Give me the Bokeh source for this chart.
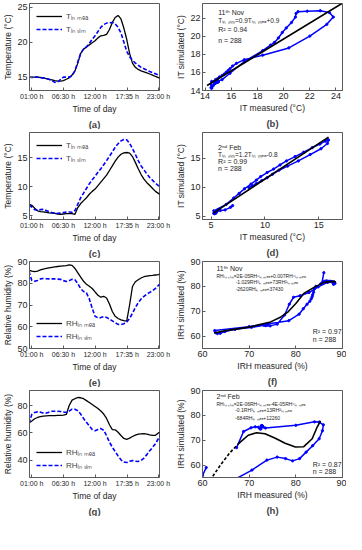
from bokeh.plotting import figure
from bokeh.layouts import column, row
from bokeh.models import Range1d, FixedTicker, Legend, LegendItem, Label, Title
from bokeh.embed import file_html
from bokeh.resources import INLINE

# ---------------- data ----------------
hours = [0.5, 1.0, 1.5, 2.0, 2.5, 3.0, 3.5, 4.0, 4.5, 5.0, 5.5, 6.0, 6.5, 7.0, 7.5, 8.0,
         8.5, 9.0, 9.5, 10.0, 10.5, 11.0, 11.5, 12.0, 12.5, 13.0, 13.5, 14.0, 14.5, 15.0,
         15.5, 16.0, 16.5, 17.0, 17.5, 18.0, 18.5, 19.0, 19.5, 20.0, 20.5, 21.0, 21.5,
         22.0, 22.5, 23.0, 23.5]

nov_t_mea = [15.0, 15.0, 15.0, 15.0, 14.95, 14.9, 14.8, 14.7, 14.6, 14.5, 14.45, 14.45, 14.5,
             14.7, 14.9, 15.3, 15.9, 17.0, 18.4, 19.0, 19.3, 19.6, 19.9, 20.2, 20.6, 20.9,
             20.95, 21.1, 21.8, 22.8, 23.5, 23.8, 23.3, 22.0, 20.4, 18.4, 17.0, 16.4, 16.1,
             15.9, 15.75, 15.6, 15.45, 15.3, 15.1, 14.95, 14.8]
nov_t_sim = [15.0, 14.95, 15.0, 15.0, 14.9, 14.9, 14.8, 14.7, 14.5, 14.25, 14.3, 14.7, 15.0,
             15.0, 15.0, 15.2, 15.9, 17.2, 18.4, 19.0, 19.3, 19.8, 20.4, 20.9, 21.5, 22.1,
             22.5, 22.7, 22.75, 22.8, 22.6, 22.1, 21.3, 20.0, 18.7, 17.9, 17.4, 17.0, 16.7,
             16.4, 16.2, 16.0, 15.8, 15.65, 15.5, 15.3, 15.2]

feb_t_mea = [7.0, 6.8, 6.3, 5.85, 5.7, 5.65, 5.6, 5.5, 5.45, 5.4, 5.3, 5.25, 5.3, 5.35, 5.35,
             5.35, 5.25, 6.4, 7.1, 7.6, 8.1, 8.7, 9.2, 9.6, 10.2, 10.8, 11.4, 12.0, 12.8, 13.6,
             14.4, 15.1, 15.6, 15.85, 15.9, 15.8, 15.2, 14.2, 13.1, 12.1, 11.3, 10.7, 10.2,
             9.7, 9.2, 8.85, 8.5]
feb_t_sim = [6.8, 6.5, 6.05, 5.95, 6.05, 6.1, 5.9, 5.7, 5.55, 5.45, 5.4, 5.45, 5.55, 5.65, 5.65,
             5.6, 5.9, 7.0, 8.1, 8.9, 9.7, 10.5, 11.2, 11.8, 12.5, 13.1, 13.8, 14.5, 15.25, 16.0,
             16.8, 17.4, 17.9, 18.15, 18.1, 17.5, 16.6, 15.6, 14.5, 13.6, 12.9, 12.2, 11.6,
             11.1, 10.6, 10.2, 9.9]

nov_rh_mea = [86.0, 85.6, 85.3, 85.6, 86.1, 86.5, 86.8, 87.1, 87.3, 87.5, 87.7, 87.9, 88.0,
              88.1, 88.4, 88.2, 86.8, 84.8, 82.8, 80.9, 79.5, 78.6, 77.6, 76.0, 74.5, 73.6,
              74.0, 73.2, 70.5, 67.0, 64.8, 63.8, 63.2, 62.8, 62.6, 70.0, 78.5, 80.7, 81.6,
              82.4, 83.0, 83.3, 83.5, 83.6, 83.8, 84.0, 84.3]
nov_rh_sim = [85.5, 81.3, 80.9, 81.3, 82.0, 82.2, 82.1, 82.0, 82.0, 82.0, 81.9, 81.8, 81.2,
              80.8, 81.2, 81.8, 81.6, 79.8, 77.5, 76.2, 75.6, 72.8, 68.5, 64.8, 64.1, 64.2,
              64.7, 64.3, 63.5, 62.7, 61.8, 61.1, 61.0, 61.4, 62.2, 63.8, 66.2, 68.8, 71.0,
              72.8, 74.0, 75.0, 75.8, 76.6, 77.6, 79.0, 80.0]

feb_rh_mea = [67.3, 68.8, 70.4, 71.3, 72.0, 72.3, 72.5, 72.6, 72.6, 72.7, 72.8, 72.8, 73.0,
              73.5, 80.0, 84.0, 85.0, 85.9, 85.7, 85.0, 83.6, 82.2, 80.8, 79.3, 77.8, 76.0,
              73.8, 70.6, 66.0, 62.5, 62.3, 60.5, 58.2, 56.0, 55.4, 56.2, 57.4, 58.4, 59.1,
              59.4, 59.5, 59.2, 58.6, 58.2, 58.3, 60.0, 60.8]
feb_rh_sim = [67.0, 73.5, 75.0, 75.4, 75.2, 74.6, 74.5, 75.2, 75.8, 75.9, 75.8, 75.7, 75.3,
              74.9, 76.0, 77.4, 77.3, 76.2, 73.8, 70.6, 67.8, 65.2, 62.6, 61.7, 62.6, 63.2,
              62.0, 58.0, 53.3, 49.6, 46.4, 43.3, 40.4, 38.8, 38.4, 39.3, 39.8, 39.4, 39.2,
              40.0, 41.7, 44.2, 47.0, 49.5, 52.2, 55.8, 59.0]

time_ticks = [1.0, 6.5, 12.0, 17.5833, 23.0]
time_tick_labels = ["01:00 h", "06:30 h", "12:00 h", "17:35 h", "23:00 h"]

# regression fits
fit_b_x = [14.15, 24.45]
fit_b_y = [14.55, 23.6]
fit_d_x = [5.2, 15.9]
fit_d_y = [5.5, 18.6]
fit_f_x = [62.5, 65.0, 70.0, 74.6, 76.8, 78.2, 80.0, 81.8, 83.9, 86.0, 88.2, 88.6]
fit_f_y = [61.2, 62.2, 63.6, 65.7, 67.7, 69.5, 73.1, 77.3, 79.6, 81.6, 82.0, 81.7]
fit_h_x_sparse = [62.2, 64.0, 65.8, 67.6]
fit_h_y_sparse = [55.5, 60.4, 64.8, 68.4]
fit_h_x = [67.6, 69.8, 71.6, 73.4, 75.6, 77.7, 79.9, 81.7, 83.5, 84.6, 85.3]
fit_h_y = [68.4, 72.0, 73.0, 72.6, 70.8, 68.8, 67.3, 67.4, 70.6, 75.4, 77.8]

# ---------------- styling helpers ----------------
FONT = "Liberation Sans"
BLUE = "#0000ff"
AX = "#5a5a5a"
W, H = 173, 129


def base(xr, yr, left):
    p = figure(width=W, height=H, x_range=Range1d(*xr), y_range=Range1d(*yr),
               output_backend="svg", toolbar_location=None, sizing_mode="fixed",
               min_border_left=18 if left else 24, min_border_right=14 if left else 4,
               min_border_top=3, min_border_bottom=1)
    p.grid.visible = False
    p.outline_line_color = AX
    p.outline_line_width = 1
    p.background_fill_color = "white"
    p.border_fill_color = "white"
    for ax in (p.xaxis[0], p.yaxis[0]):
        ax.axis_line_color = AX
        ax.major_tick_line_color = AX
        ax.major_tick_in = 3
        ax.major_tick_out = 0
        ax.minor_tick_line_color = None
        ax.major_label_text_font = FONT
        ax.major_label_text_color = "#262626"
        ax.major_label_text_font_size = "9px"
        ax.axis_label_text_font = FONT
        ax.axis_label_text_font_style = "normal"
        ax.axis_label_text_font_size = "8.5px"
        ax.axis_label_text_color = "#262626"
        ax.major_label_standoff = 2
        ax.axis_label_standoff = 1
    return p


def letter(p, txt):
    p.add_layout(Title(text=txt, align="center", text_font=FONT, text_font_size="9.5px",
                       text_font_style="bold", standoff=0, offset=0), "below")


def time_panel(mea, sim, yr, yticks, ylabel, labels, loc, let):
    p = base((0.6, 23.2), yr, True)
    p.xaxis.ticker = FixedTicker(ticks=time_ticks)
    p.xaxis.major_label_overrides = {t: s for t, s in zip(time_ticks, time_tick_labels)}
    p.xaxis.major_label_text_font_size = "7px"
    p.yaxis.ticker = FixedTicker(ticks=yticks)
    p.xaxis.axis_label = "Time of day"
    p.yaxis.axis_label = ylabel
    r1 = p.line(hours, mea, color="black", line_width=1.3)
    r2 = p.line(hours, sim, color=BLUE, line_width=1.6, line_dash="4 2")
    leg = Legend(items=[LegendItem(label=labels[0], renderers=[r1]),
                        LegendItem(label=labels[1], renderers=[r2])],
                 location=loc, border_line_alpha=0, background_fill_alpha=0,
                 label_text_font=FONT, label_text_font_size="8px",
                 glyph_width=26, glyph_height=8, label_standoff=4, spacing=2,
                 padding=2, margin=5, label_height=8)
    p.add_layout(leg)
    letter(p, let)
    return p


def scatter_panel(mea, sim, xr, yr, ticks, xlabel, ylabel, let):
    p = base(xr, yr, False)
    p.xaxis.ticker = FixedTicker(ticks=ticks[0])
    p.yaxis.ticker = FixedTicker(ticks=ticks[1])
    p.xaxis.axis_label = xlabel
    p.yaxis.axis_label = ylabel
    p.line(mea, sim, color=BLUE, line_width=1.5)
    p.scatter(mea, sim, size=2.3, color=BLUE)
    letter(p, let)
    return p


def note(p, x, y, txt, size="7px"):
    p.add_layout(Label(x=x, y=y, text=txt, text_font=FONT, text_font_size=size,
                       text_baseline="middle", text_color="#262626"))


SUB_IN_MEA = "ᵢₙ ₘₑₐ"
SUB_IN_SIM = "ᵢₙ ₛᵢₘ"

# (a)
pa = time_panel(nov_t_mea, nov_t_sim, (13.1, 25.5), [15, 20, 25], "Temperature (°C)",
                ["T" + SUB_IN_MEA, "T" + SUB_IN_SIM], "top_left", "(a)")
# (b)
pb = scatter_panel(nov_t_mea, nov_t_sim, (13.8, 24.5), (14.0, 23.6),
                   ([14, 16, 18, 20, 22, 24], [14, 16, 18, 20, 22]),
                   "IT measured (°C)", "IT simulated (°C)", "(b)")
pb.line(fit_b_x, fit_b_y, color="black", line_width=1.6)
note(pb, 15.0, 22.6, "11ᵗʰ Nov")
note(pb, 15.0, 21.7, "T" + SUB_IN_SIM + "=0.9T" + SUB_IN_MEA + "+0.9", "6.5px")
note(pb, 15.0, 20.75, "R² = 0.94")
note(pb, 15.0, 19.5, "n = 288")

# (c)
pc = time_panel(feb_t_mea, feb_t_sim, (4.35, 19.35), [5, 10, 15], "Temperature (°C)",
                ["T" + SUB_IN_MEA, "T" + SUB_IN_SIM], "top_left", "(c)")
# (d)
pd_ = scatter_panel(feb_t_mea, feb_t_sim, (4.2, 17.2), (4.4, 19.4),
                    ([5, 10, 15], [5, 10, 15]),
                    "IT measured (°C)", "IT simulated (°C)", "(d)")
pd_.line(fit_d_x, fit_d_y, color="black", line_width=1.6)
note(pd_, 5.65, 16.8, "2ⁿᵈ Feb")
note(pd_, 5.65, 15.66, "T" + SUB_IN_SIM + "=1.2T" + SUB_IN_MEA + "-0.8", "6.5px")
note(pd_, 5.65, 14.4, "R² = 0.99")
note(pd_, 5.65, 13.2, "n = 288")

# (e)
pe = time_panel(nov_rh_mea, nov_rh_sim, (50, 90), [50, 60, 70, 80, 90], "Relative humidity (%)",
                ["RH" + SUB_IN_MEA, "RH" + SUB_IN_SIM], "bottom_left", "(e)")
# (f)
pf = scatter_panel(nov_rh_mea, nov_rh_sim, (60, 90), (55, 90),
                   ([60, 70, 80, 90], [60, 70, 80, 90]),
                   "IRH measured (%)", "IRH simulated (%)", "(f)")
pf.line(fit_f_x, fit_f_y, color="black", line_width=1.6)
note(pf, 63.0, 87.25, "11ᵗʰ Nov")
note(pf, 63.0, 84.3, "RH" + SUB_IN_SIM + "=2E-05RH⁵" + SUB_IN_MEA + "+0.007RH⁴" + SUB_IN_MEA, "5px")
note(pf, 67.1, 81.7, "-1.029RH³" + SUB_IN_MEA + "+73RH²" + SUB_IN_MEA, "5px")
note(pf, 67.1, 78.9, "-2620RH" + SUB_IN_MEA + "+37430", "5px")
note(pf, 83.6, 61.7, "R² = 0.97")
note(pf, 83.6, 58.7, "n = 288")

# (g)
pg = time_panel(feb_rh_mea, feb_rh_sim, (27.5, 91), [40, 60, 80], "Relative humidity (%)",
                ["RH" + SUB_IN_MEA, "RH" + SUB_IN_SIM], "bottom_left", "(g)")
# (h)
ph = scatter_panel(feb_rh_mea, feb_rh_sim, (60, 90), (55, 90),
                   ([60, 70, 80, 90], [60, 70, 80, 90]),
                   "IRH measured (%)", "IRH simulated (%)", "(h)")
ph.line(fit_h_x_sparse, fit_h_y_sparse, color="black", line_width=1.6, line_dash="3 2")
ph.line(fit_h_x, fit_h_y, color="black", line_width=1.6)
note(ph, 63.0, 87.7, "2ⁿᵈ Feb")
note(ph, 63.0, 84.6, "RH" + SUB_IN_SIM + "=2E-06RH⁵" + SUB_IN_MEA + "-4E-05RH⁴" + SUB_IN_MEA, "5px")
note(ph, 67.0, 82.1, "-0.1RH³" + SUB_IN_MEA + "+13RH²" + SUB_IN_MEA, "5px")
note(ph, 67.0, 79.0, "-684RH" + SUB_IN_MEA + "+12260", "5px")
note(ph, 83.6, 60.4, "R² = 0.87")
note(ph, 83.6, 57.5, "n = 288")

rows = [row(pa, pb, width=2 * W, height=H, sizing_mode="fixed"),
        row(pc, pd_, width=2 * W, height=H, sizing_mode="fixed"),
        row(pe, pf, width=2 * W, height=H, sizing_mode="fixed"),
        row(pg, ph, width=2 * W, height=H, sizing_mode="fixed")]
layout = column(*rows, width=2 * W, height=4 * H, sizing_mode="fixed", spacing=0)

open("out.html", "w").write(file_html(layout, INLINE))
